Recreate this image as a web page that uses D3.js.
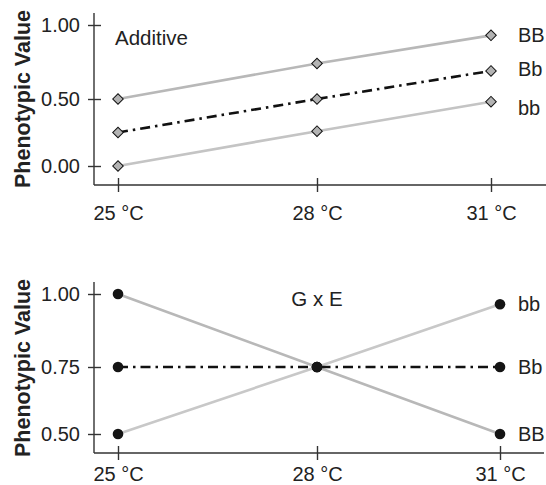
<!DOCTYPE html>
<html>
<head>
<meta charset="utf-8">
<script src="https://cdn.jsdelivr.net/npm/d3@7"></script>
<style>
  html, body { margin: 0; padding: 0; background: #fff; }
  svg { display: block; }
  text { font-family: "Liberation Sans", Arial, Helvetica, sans-serif; fill: #222; }
</style>
</head>
<body>
<svg id="chart" width="546" height="485"></svg>
<script>
// ---- data ----
const temps = [25, 28, 31];
const tempLabels = ["25 °C", "28 °C", "31 °C"];
const genotypes = ["BB", "Bb", "bb"];

// Additive panel
const addBB = [0.50, 0.74, 0.93];
const addBb = [0.25, 0.50, 0.69];
const addbb = [0.00, 0.26, 0.48];
const addTicks = [0.00, 0.50, 1.00];
const addLabelAt = [0.93, 0.70, 0.43];   // label anchors for BB, Bb, bb
const addTitle = "Additive";

// G x E panel
const gxeBB = [1.00, 0.75, 0.50];
const gxeBb = [0.75, 0.75, 0.75];
const gxebb = [0.50, 0.75, 0.965];
const gxeTicks = [0.50, 0.75, 1.00];
const gxeLabelAt = [0.50, 0.75, 0.965];
const gxeTitle = "G x E";

const yTitle = "Phenotypic Value";

// ---- drawing ----
const svg = d3.select("#chart");
const AXIS_X = 94;
const LABEL_X = 518;

function panel(cfg) {
  const g = svg.append("g");
  const x = d3.scaleLinear().domain(temps).range(cfg.xRange);
  const y = d3.scaleLinear().domain(cfg.yDomain).range(cfg.yRange);

  // axis lines
  g.append("line").attr("x1", AXIS_X).attr("x2", AXIS_X)
    .attr("y1", cfg.yTop).attr("y2", cfg.xAxisY)
    .attr("stroke", "#333").attr("stroke-width", 1.4);
  g.append("line").attr("x1", AXIS_X).attr("x2", cfg.xEnd)
    .attr("y1", cfg.xAxisY).attr("y2", cfg.xAxisY)
    .attr("stroke", "#333").attr("stroke-width", 1.4);

  // y axis ticks
  const ya = g.append("g").attr("transform", `translate(${AXIS_X},0)`)
    .call(d3.axisLeft(y).tickValues(cfg.ticks).tickFormat(d3.format(".2f"))
      .tickSize(6).tickPadding(8));
  ya.select(".domain").remove();
  ya.selectAll(".tick line").attr("x1", 7).attr("x2", -6)
    .attr("stroke", "#333").attr("stroke-width", 1.4);
  ya.selectAll(".tick text").attr("font-size", 20).attr("fill", "#222")
    .style("font-family", "'Liberation Sans', Arial, sans-serif");

  // x axis ticks
  const xa = g.append("g").attr("transform", `translate(0,${cfg.xAxisY})`)
    .call(d3.axisBottom(x).tickValues(temps).tickFormat((d, i) => tempLabels[i])
      .tickSize(7).tickPadding(cfg.xPad));
  xa.select(".domain").remove();
  xa.selectAll(".tick line").attr("y1", -7).attr("y2", 7)
    .attr("stroke", "#333").attr("stroke-width", 1.4);
  xa.selectAll(".tick text").attr("font-size", 20).attr("fill", "#222")
    .style("font-family", "'Liberation Sans', Arial, sans-serif");

  // y title
  g.append("text")
    .attr("transform", `translate(30,${cfg.yTitleY}) rotate(-90)`)
    .attr("text-anchor", "middle")
    .attr("font-size", 21.5).attr("font-weight", "bold")
    .text(yTitle);

  // panel title
  g.append("text")
    .attr("x", cfg.titleX).attr("y", cfg.titleY)
    .attr("text-anchor", cfg.titleAnchor)
    .attr("font-size", 20.5)
    .text(cfg.title);

  const line = d3.line().x((d, i) => x(temps[i])).y(d => y(d));
  const styles = {
    BB: { stroke: cfg.grayBB, dash: null },
    Bb: { stroke: "#111", dash: "10,5,2.5,5" },
    bb: { stroke: cfg.graybb, dash: null }
  };
  ["BB", "bb", "Bb"].forEach(k => {
    const idx = genotypes.indexOf(k);
    g.append("path").datum(cfg.series[idx])
      .attr("d", line)
      .attr("fill", "none")
      .attr("stroke", styles[k].stroke)
      .attr("stroke-width", 2.6)
      .attr("stroke-dasharray", styles[k].dash);
  });

  // markers
  cfg.series.forEach(vals => {
    vals.forEach((v, i) => {
      if (cfg.marker === "diamond") {
        g.append("path")
          .attr("d", d3.symbol(d3.symbolSquare, 56)())
          .attr("transform", `translate(${x(temps[i])},${y(v)}) rotate(45)`)
          .attr("fill", "#b3b3b3").attr("stroke", "#111").attr("stroke-width", 1);
      } else {
        g.append("circle")
          .attr("cx", x(temps[i])).attr("cy", y(v)).attr("r", 5.3)
          .attr("fill", "#151515");
      }
    });
  });

  // right-hand labels
  genotypes.forEach((gname, i) => {
    g.append("text")
      .attr("x", LABEL_X).attr("y", y(cfg.labelAt[i]))
      .attr("dy", "0.35em")
      .attr("font-size", 20)
      .text(gname);
  });
}

panel({
  xRange: [118, 317, 491], yDomain: [0, 0.5, 1], yRange: [166, 99, 25],
  yTop: 13, xAxisY: 185, xEnd: 546, xPad: 14, ticks: addTicks,
  yTitleY: 99, title: addTitle, titleX: 115, titleY: 45, titleAnchor: "start",
  series: [addBB, addBb, addbb], labelAt: addLabelAt, marker: "diamond",
  grayBB: "#b8b8b8", graybb: "#c4c4c4"
});

panel({
  xRange: [118, 317, 500], yDomain: [0.5, 0.75, 1], yRange: [434, 367, 294],
  yTop: 282, xAxisY: 453, xEnd: 544, xPad: 7, ticks: gxeTicks,
  yTitleY: 368, title: gxeTitle, titleX: 317, titleY: 306, titleAnchor: "middle",
  series: [gxeBB, gxeBb, gxebb], labelAt: gxeLabelAt, marker: "dot",
  grayBB: "#b8b8b8", graybb: "#c8c8c8"
});
</script>
</body>
</html>
